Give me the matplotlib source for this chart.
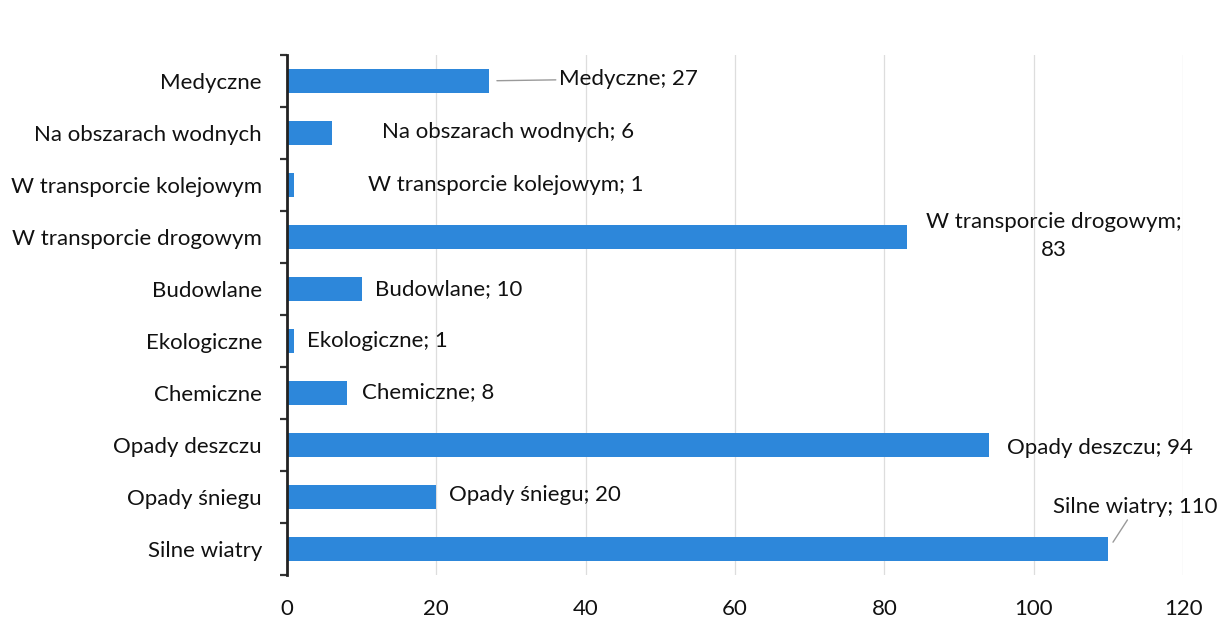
import matplotlib.pyplot as plt
import matplotlib.ticker as tick

# kategorie od gory do dolu
kategorie = ['Medyczne', 'Na obszarach wodnych', 'W transporcie kolejowym',
             'W transporcie drogowym', 'Budowlane', 'Ekologiczne', 'Chemiczne',
             'Opady deszczu', 'Opady śniegu', 'Silne wiatry']
wartosci = [27, 6, 1, 83, 10, 1, 8, 94, 20, 110]
etykiety = ['Medyczne; 27', 'Na obszarach wodnych; 6', 'W transporcie kolejowym; 1',
            'W transporcie drogowym;\n83', 'Budowlane; 10', 'Ekologiczne; 1',
            'Chemiczne; 8', 'Opady deszczu; 94', 'Opady śniegu; 20', 'Silne wiatry; 110']
xticks = [0, 20, 40, 60, 80, 100, 120]

# przesuniecia etykiet (piksele od konca slupka)
dx = [70, 50, 74, 147, 13, 13, 15, 18, 13, -55]
dy = [2, 1, 0, 1, 0, 0, 1, -3, 2, 42]
ha = ['left'] * 10
ha[3] = 'center'
linia = [True, False, False, False, False, False, False, False, False, True]

plt.rcParams['font.family'] = ['Lato', 'DejaVu Sans']
plt.rcParams.update({'font.size': 16})

fig = plt.figure(figsize=(12.21, 6.30), dpi=100)
ax = fig.add_axes([0.235, 0.087, 0.734, 0.826])

kolor = '#2d87da'
y = list(range(len(kategorie)))
ax.barh(y, wartosci, height=0.45, color=kolor, zorder=3)

ax.set_xlim(0, 120)
ax.set_ylim(len(kategorie) - 0.5, -0.5)
ax.set_yticks(y)
ax.set_yticklabels(kategorie)
ax.yaxis.set_minor_locator(tick.FixedLocator([i - 0.5 for i in range(len(kategorie) + 1)]))
ax.tick_params(axis='y', which='major', length=0, pad=18, colors='#111111')
ax.tick_params(axis='y', which='minor', length=5, width=1.6, color='#333333', direction='out')
ax.set_xticks(xticks)
ax.tick_params(axis='x', length=0, pad=17, colors='#111111')

ax.grid(axis='x', color='#dddddd', lw=0.9, zorder=0)
for s in ['top', 'right', 'bottom']:
    ax.spines[s].set_visible(False)
ax.spines['left'].set_color('#222222')
ax.spines['left'].set_linewidth(2)
ax.spines['left'].set_zorder(4)

for i, (v, t) in enumerate(zip(wartosci, etykiety)):
    if linia[i]:
        ap = dict(arrowstyle='-', color='#9a9a9a', lw=1, shrinkA=0, shrinkB=6)
    else:
        ap = None
    ax.annotate(t, xy=(v, i), xytext=(dx[i], dy[i]),
                textcoords='offset pixels', ha=ha[i], va='center',
                color='#111111', arrowprops=ap, linespacing=1.5, zorder=5)

fig.savefig('out.png', dpi=100)
